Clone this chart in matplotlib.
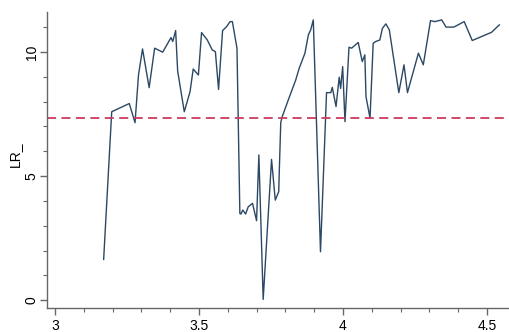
#
# LR profile along position, with threshold line

import numpy as np
import matplotlib.pyplot as plt
from matplotlib.ticker import MultipleLocator

plt.rcParams['font.family'] = ['Liberation Sans', 'DejaVu Sans']

# data
pos = [3.169, 3.197, 3.258, 3.278, 3.290, 3.304, 3.327, 3.346, 3.374, 3.403,
       3.409, 3.419, 3.426, 3.449, 3.469, 3.480, 3.498, 3.509, 3.529, 3.546,
       3.557, 3.568, 3.582, 3.596, 3.608, 3.616, 3.632, 3.642, 3.646, 3.652,
       3.662, 3.671, 3.686, 3.700, 3.708, 3.723, 3.752, 3.765, 3.777, 3.779,
       3.784, 3.789, 3.810, 3.836, 3.848, 3.868, 3.880, 3.888, 3.897, 3.922,
       3.943, 3.958, 3.963, 3.976, 3.987, 3.992, 3.999, 4.007, 4.021, 4.030,
       4.053, 4.067, 4.076, 4.080, 4.094, 4.105, 4.114, 4.128, 4.137, 4.149,
       4.161, 4.194, 4.212, 4.224, 4.262, 4.279, 4.304, 4.319, 4.343, 4.358,
       4.385, 4.421, 4.449, 4.516, 4.543]
lr = [1.64, 7.59, 7.92, 7.15, 9.07, 10.12, 8.56, 10.15, 9.99, 10.58,
      10.42, 10.86, 9.23, 7.59, 8.40, 9.31, 9.07, 10.78, 10.48, 10.08,
      10.01, 8.49, 10.86, 11.02, 11.22, 11.22, 10.15, 3.49, 3.47, 3.63,
      3.47, 3.76, 3.90, 3.20, 5.85, 0.03, 5.67, 4.03, 4.37, 5.24,
      7.15, 7.39, 8.06, 8.87, 9.34, 9.95, 10.69, 10.89, 11.29, 1.95,
      8.36, 8.36, 8.57, 7.80, 8.98, 8.53, 9.41, 7.19, 10.19, 10.15,
      10.38, 9.61, 9.88, 8.20, 7.33, 10.35, 10.42, 10.48, 10.95, 11.13,
      10.89, 8.36, 9.48, 8.36, 9.95, 9.48, 11.26, 11.22, 11.29, 11.00,
      11.00, 11.22, 10.46, 10.79, 11.09]
threshold = 7.33

fig = plt.figure(figsize=(5.1, 3.32), dpi=100)
ax = fig.add_axes([0.092, 0.072, 0.904, 0.892])

ax.plot(pos, lr, color='#2b4864', lw=1.0)
ax.axhline(threshold, color='#cc3a5c', lw=1.3, ls=(0, (5, 3)))

ax.set_xlim(2.972, 4.573)
ax.set_ylim(-0.32, 11.61)

ax.xaxis.set_major_locator(MultipleLocator(0.5))
ax.xaxis.set_minor_locator(MultipleLocator(0.1))
ax.yaxis.set_major_locator(MultipleLocator(5))
ax.yaxis.set_minor_locator(MultipleLocator(1))
ax.set_xticks([3, 3.5, 4, 4.5], ['3', '3.5', '4', '4.5'])

for s in ['top', 'right']:
    ax.spines[s].set_visible(False)
for s in ['left', 'bottom']:
    ax.spines[s].set_color('#666666')
    ax.spines[s].set_linewidth(1.0)

ax.tick_params(which='major', length=5, width=1.0, color='#666666',
               labelsize=10, pad=3)
ax.tick_params(axis='y', which='major', pad=1)
ax.tick_params(which='minor', length=3, width=0.8, color='#666666')
for t in ax.get_yticklabels():
    t.set_rotation(90)
    t.set_va('center')

ax.set_ylabel('LR_', fontsize=10)
ax.yaxis.set_label_coords(-0.054, 0.52)

fig.savefig('out.png', dpi=100)
